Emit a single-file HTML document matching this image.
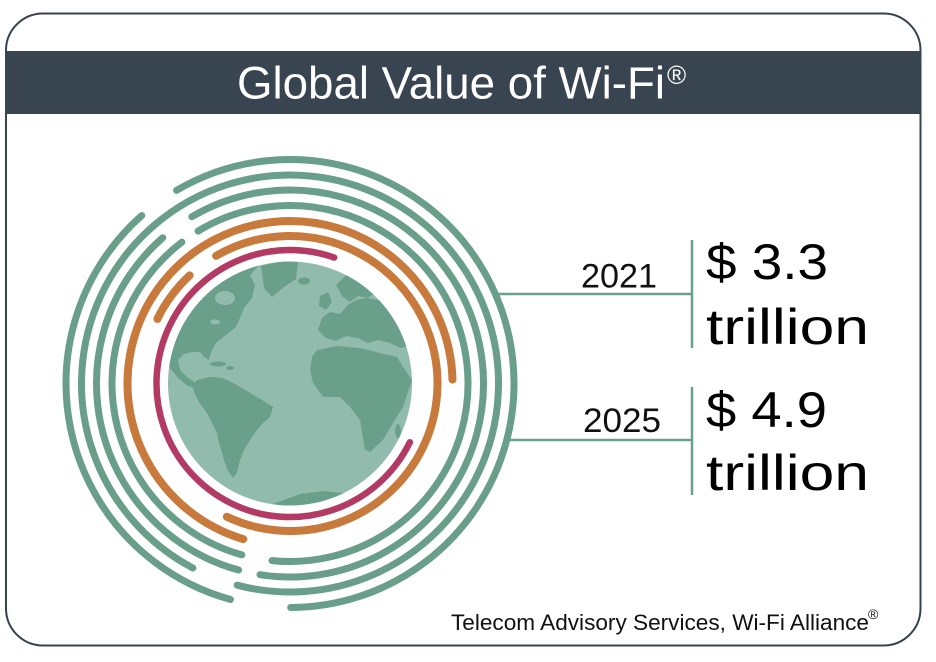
<!DOCTYPE html>
<html>
<head>
<meta charset="utf-8">
<style>
  html,body{margin:0;padding:0;background:#ffffff;}
  svg{display:block;}
  text{font-family:"Liberation Sans", sans-serif;}
</style>
</head>
<body>
<svg width="936" height="662" viewBox="0 0 936 662" xmlns="http://www.w3.org/2000/svg">
  <rect x="0" y="0" width="936" height="662" fill="#ffffff"/>
  <!-- outer frame -->
  <rect x="6" y="13.5" width="914.5" height="632" rx="37" ry="37" fill="#ffffff" stroke="#36424d" stroke-width="2"/>
  <!-- title bar -->
  <rect x="5" y="51" width="916.5" height="63" fill="#38444f"/>
  <text x="237" y="98.5" font-size="45" fill="#ffffff" textLength="428" lengthAdjust="spacingAndGlyphs">Global Value of Wi-Fi</text>
  <text x="667" y="84" font-size="26" fill="#ffffff">®</text>

  <defs>
    <clipPath id="globeClip"><circle cx="290" cy="383.5" r="122"/></clipPath>
  </defs>

  <!-- globe -->
  <circle cx="290" cy="383.5" r="122" fill="#91bbad"/>
  <g clip-path="url(#globeClip)" fill="#6a9f8b">
    <!-- North America -->
    <polygon points="160,345 165,300 175,268 230,258 262,262 250,275 255,285 252,298 244,308 240,318 236,327 226,335 216,343 211,352 209,360 204,357 200,352 192,352 184,354 178,360 180,370 188,378 196,383 204,386 198,389 188,386 178,378 170,368"/>
    <!-- Greenland -->
    <polygon points="261,266 282,261 298,262 296,279 284,287 272,297 264,288"/>
    <!-- Caribbean -->
    <ellipse cx="218" cy="364" rx="8" ry="2.5"/>
    <ellipse cx="230" cy="368" rx="4" ry="2"/>
    <!-- South America -->
    <polygon points="197,380 210,377 223,378 237,385 250,393 262,400 273,407 270,417 262,424 257,430 250,440 244,450 240,460 237,473 233,478 228,471 224,460 222,453 219,443 217,433 212,423 207,413 199,402 194,392 193,386"/>
    <!-- Africa -->
    <polygon points="310,370 312,357 317,350 337,346 360,348 380,353 397,357 407,373 412,380 408,392 403,407 393,423 383,440 370,452 365,450 362,433 360,420 350,407 340,397 323,397 313,383"/>
    <ellipse cx="398" cy="431" rx="3" ry="7"/>
    <!-- Europe -->
    <polygon points="318,330 322,318 330,312 340,314 348,305 356,300 366,298 378,300 392,305 402,315 410,330 414,345 400,348 390,343 378,340 368,343 358,338 346,336 336,341 326,338"/>
    <!-- Scandinavia -->
    <polygon points="336,285 345,276 358,272 370,279 376,292 368,298 358,296 350,302 342,296"/>
    <!-- British Isles -->
    <polygon points="320,296 328,292 332,302 326,310 319,306"/>
    <!-- Iceland -->
    <ellipse cx="304" cy="281" rx="6" ry="3.5"/>
    <!-- Antarctica -->
    <polygon points="270,505 300,494 325,491 350,494 365,500 330,510 280,510"/>
  </g>
  <!-- Hudson Bay / lakes (lighter) -->
  <g clip-path="url(#globeClip)" fill="#91bbad">
    <ellipse cx="225" cy="298" rx="10" ry="7"/>
    <ellipse cx="215" cy="322" rx="5" ry="2.5"/>
  </g>

  <!-- rings -->
  <g fill="none" stroke-linecap="round">
    <circle cx="290" cy="383.5" r="224" pathLength="360" stroke="#689e8a" stroke-width="7"
      stroke-dasharray="123.1 11 210.3 15.6" transform="rotate(105.5 290 383.5)"/>
    <circle cx="290" cy="383.5" r="208.5" pathLength="360" stroke="#689e8a" stroke-width="7"
      stroke-dasharray="346.9 13.1" transform="rotate(117.8 290 383.5)"/>
    <circle cx="290" cy="383.5" r="193.5" pathLength="360" stroke="#689e8a" stroke-width="7"
      stroke-dasharray="123.5 10.6 219.4 6.5" transform="rotate(105.4 290 383.5)"/>
    <circle cx="290" cy="383.5" r="178" pathLength="360" stroke="#689e8a" stroke-width="7"
      stroke-dasharray="126.9 6.3 216.9 9.9" transform="rotate(105.7 290 383.5)"/>
    <circle cx="290" cy="383.5" r="162.5" pathLength="360" stroke="#c87a3c" stroke-width="8"
      stroke-dasharray="251.9 108.1" transform="rotate(106.7 290 383.5)"/>
    <circle cx="290" cy="383.5" r="147.5" pathLength="360" stroke="#c87a3c" stroke-width="8"
      stroke-dasharray="21.2 12.8 235.4 90.6" transform="rotate(205.95 290 383.5)"/>
    <circle cx="290" cy="383.5" r="133.5" pathLength="360" stroke="#b33b63" stroke-width="6.5"
      stroke-dasharray="263.2 96.8" transform="rotate(26.1 290 383.5)"/>
  </g>

  <!-- connector lines -->
  <g stroke="#6aa08b" stroke-width="2.5" fill="none">
    <line x1="495" y1="294" x2="692" y2="294"/>
    <line x1="692" y1="240" x2="692" y2="348"/>
    <line x1="509" y1="440" x2="692" y2="440"/>
    <line x1="692" y1="387" x2="692" y2="495"/>
  </g>

  <!-- values -->
  <text x="581" y="287.5" font-size="34" fill="#111111" textLength="76" lengthAdjust="spacingAndGlyphs">2021</text>
  <text x="583" y="432" font-size="34" fill="#111111" textLength="78" lengthAdjust="spacingAndGlyphs">2025</text>
  <text x="706" y="279" font-size="50" fill="#000000" textLength="122" lengthAdjust="spacingAndGlyphs">$ 3.3</text>
  <text x="706" y="344" font-size="50" fill="#000000" textLength="163" lengthAdjust="spacingAndGlyphs">trillion</text>
  <text x="706" y="427" font-size="50" fill="#000000" textLength="121" lengthAdjust="spacingAndGlyphs">$ 4.9</text>
  <text x="706" y="490" font-size="50" fill="#000000" textLength="163" lengthAdjust="spacingAndGlyphs">trillion</text>

  <!-- source -->
  <text x="451" y="630" font-size="22.5" fill="#111111" textLength="418" lengthAdjust="spacingAndGlyphs">Telecom Advisory Services, Wi-Fi Alliance</text>
  <text x="868" y="619" font-size="14" fill="#111111">®</text>
</svg>
</body>
</html>
